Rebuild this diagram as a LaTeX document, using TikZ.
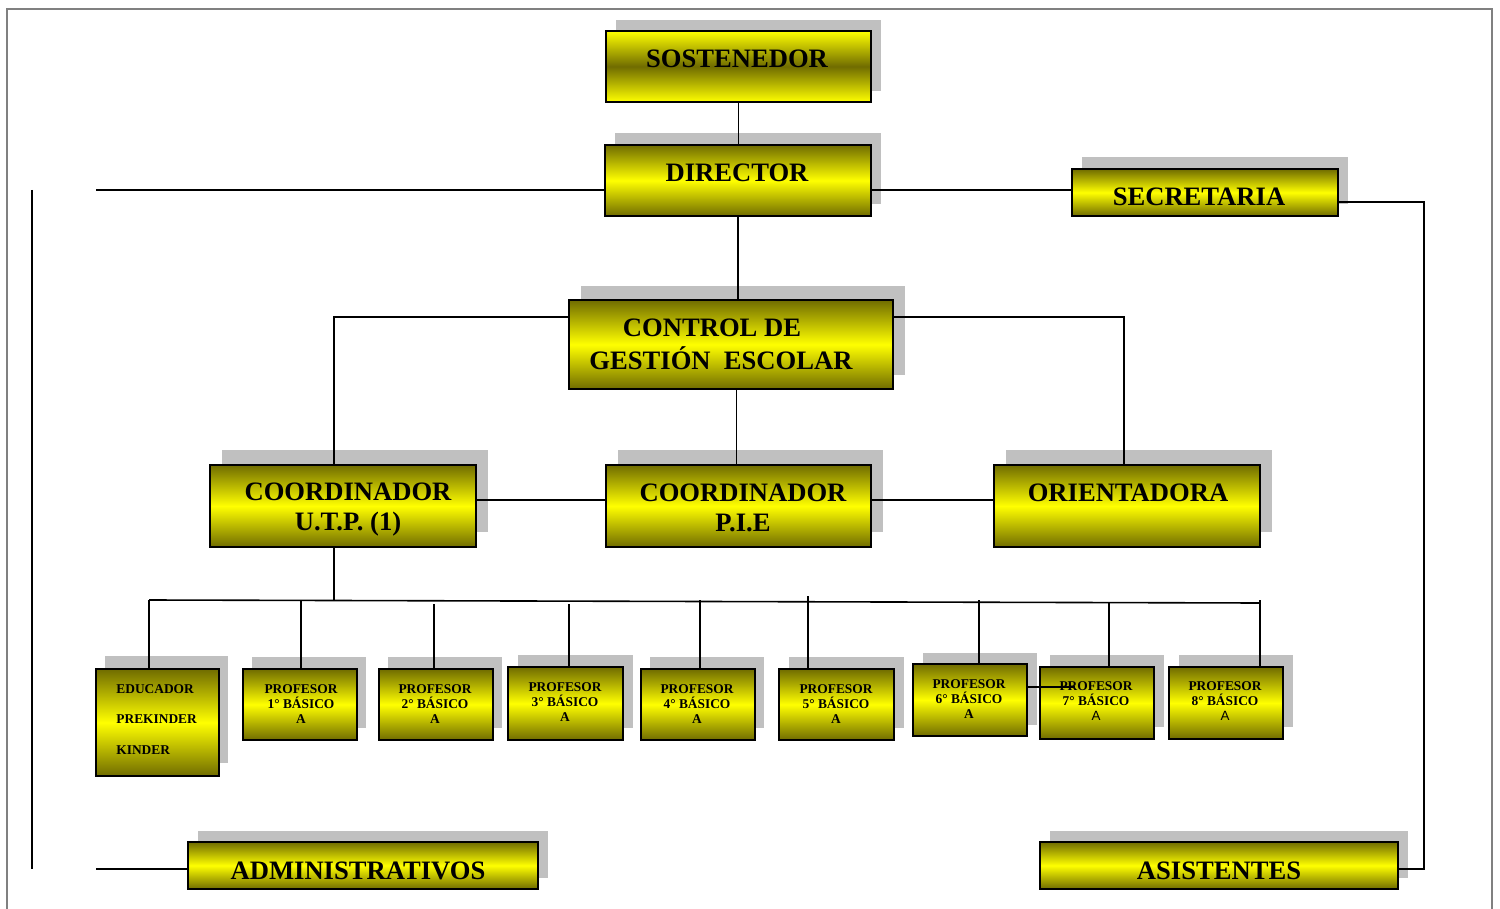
\documentclass[tikz,border=0pt]{standalone}
\usepackage{fontspec}
\setmainfont{Liberation Serif}
\newfontfamily\arialf{Liberation Sans}
\usetikzlibrary{shadows}
\definecolor{olv}{RGB}{112,108,0}
\definecolor{ylw}{RGB}{255,255,0}
\definecolor{shg}{RGB}{192,192,192}
\definecolor{frm}{RGB}{128,128,128}
\begin{document}
\begin{tikzpicture}[x=0.5pt,y=-0.5pt,
  ybox/.style={draw, line width=1pt, inner sep=0pt, top color=olv, bottom color=olv, middle color=ylw},
  ibox/.style={draw, line width=1pt, inner sep=0pt, top color=ylw, bottom color=ylw, middle color=olv},
  sz/.style 2 args={minimum width=#1*0.5pt, minimum height=#2*0.5pt},
  shad/.style 2 args={general shadow={shadow xshift=#1, shadow yshift=#2, fill=shg}},
  big/.style={font=\fontsize{13.3}{15}\selectfont\bfseries, align=center, inner sep=0pt},
  small/.style={font=\fontsize{6.7}{7.5}\selectfont\bfseries, align=center, inner sep=0pt},
  smallL/.style={font=\fontsize{6.7}{7.5}\selectfont\bfseries, anchor=west, inner sep=0pt},
  conn/.style={line width=0.8pt}]
\useasboundingbox (0,0) rectangle (1500,909);
% frame
\draw[frm, line width=1pt] (7,909) -- (7,9) -- (1492,9) -- (1492,909);

% boxes
\node[ibox, sz={265}{71}, shad={5pt}{5.5pt}] (sost) at (738.5,66.5) {};
\node[ybox, sz={266}{71}, shad={5pt}{6pt}] (dir) at (738,180.5) {};
\node[ybox, sz={266}{47}, shad={5pt}{6pt}] (sec) at (1205,192.5) {};
\node[ybox, sz={324}{89}, shad={6pt}{7pt}] (ctrl) at (731,344.5) {};
\node[ybox, sz={266}{82}, shad={6pt}{7.5pt}] (utp) at (343,506) {};
\node[ybox, sz={265}{82}, shad={6pt}{7.5pt}] (pie) at (738.5,506) {};
\node[ybox, sz={266}{82}, shad={6pt}{7.5pt}] (ori) at (1127,506) {};
\node[ybox, sz={123}{107}, shad={4.5pt}{6.5pt}] (edu) at (157.5,722.5) {};
\node[ybox, sz={114}{71}, shad={4.5pt}{6pt}] (p1) at (300,704.5) {};
\node[ybox, sz={114}{71}, shad={4.5pt}{6pt}] (p2) at (436,704.5) {};
\node[ybox, sz={115}{73}, shad={5pt}{6pt}] (p3) at (565.5,703.5) {};
\node[ybox, sz={114}{71}, shad={4.5pt}{6pt}] (p4) at (698,704.5) {};
\node[ybox, sz={115}{71}, shad={5pt}{6pt}] (p5) at (836.5,704.5) {};
\node[ybox, sz={114}{72}, shad={5pt}{5.5pt}] (p6) at (970,700) {};
\node[ybox, sz={114}{72}, shad={5pt}{6pt}] (p7) at (1097,703) {};
\node[ybox, sz={114}{72}, shad={5pt}{6pt}] (p8) at (1226,703) {};
\node[ybox, sz={350}{47}, shad={5pt}{5.5pt}] (adm) at (363,865.5) {};
\node[ybox, sz={358}{47}, shad={5pt}{5.5pt}] (asi) at (1219,865.5) {};

% texts
\node[big] (tsost) at (737,59) {SOSTENEDOR};
\node[big] (tdir) at (737,173) {DIRECTOR};
\node[big] (tsec) at (1199,197) {SECRETARIA};
\node[big] (tctrl1) at (712,328) {CONTROL DE};
\node[big] (tctrl2) at (721,358) {GESTIÓN\ \ ESCOLAR};
\node[big] (tutp) at (348,510) {COORDINADOR\\U.T.P. (1)};
\node[big] (tpie) at (743,508) {COORDINADOR\\P.I.E};
\node[big] (tori) at (1128,493) {ORIENTADORA};
\node[big] (tadm) at (358,871) {ADMINISTRATIVOS};
\node[big] (tasi) at (1219,871) {ASISTENTES};
\node[smallL] (tedu1) at (116,689) {EDUCADOR};
\node[smallL] (tedu2) at (116,719) {PREKINDER};
\node[smallL] (tedu3) at (116,750) {KINDER};
\node[small] (tp1) at (301,704) {PROFESOR\\1° BÁSICO\\A};
\node[small] (tp2) at (435,704) {PROFESOR\\2° BÁSICO\\A};
\node[small] (tp3) at (565,702) {PROFESOR\\3° BÁSICO\\A};
\node[small] (tp4) at (697,704) {PROFESOR\\4° BÁSICO\\A};
\node[small] (tp5) at (836,704) {PROFESOR\\5° BÁSICO\\A};
\node[small] (tp6) at (969,699) {PROFESOR\\6° BÁSICO\\A};
\node[small] (tp7) at (1096,701) {PROFESOR\\7° BÁSICO\\{\arialf\mdseries A}};
\node[small] (tp8) at (1225,701) {PROFESOR\\8° BÁSICO\\{\arialf\mdseries A}};

% helper coordinates
\coordinate (L1) at (96,190);
\coordinate (L2) at (96,869);
\coordinate (V1) at (32,190);
\coordinate (V2) at (32,869);
\coordinate (R1) at (1424,202);
\coordinate (C1) at (334,317);
\coordinate (C2) at (1124,317);
\coordinate (C3) at (736.5,389);
\coordinate (H1) at (0,500);
\coordinate (B1) at (149,600);
\coordinate (B2) at (1260,603);
\coordinate (W1) at (1075,687);

% connectors
\draw[conn] (sost.south) -- (sost.south |- dir.north);
\draw[conn] (L1) -- (L1 -| dir.west);
\draw[conn] (L1 -| dir.east) -- (L1 -| sec.west);
\draw[conn] (V1) -- (V2);
\draw[conn] (L2) -- (L2 -| adm.west);
\draw[conn] (R1 -| sec.east) -- (R1) -- (R1 |- L2) -- (L2 -| asi.east);
\draw[conn] (dir.south) -- (dir.south |- ctrl.north);
\draw[conn] (C1 -| ctrl.west) -- (C1) -- (C1 |- utp.north);
\draw[conn] (C2 -| ctrl.east) -- (C2) -- (C2 |- ori.north);
\draw[conn] (C3) -- (C3 |- pie.north);
\draw[conn] (H1 -| utp.east) -- (H1 -| pie.west);
\draw[conn] (H1 -| pie.east) -- (H1 -| ori.west);
\draw[conn] (C1 |- utp.south) -- (334,600);
\draw[conn] (B1) -- (B2);
\draw[conn] (B1) -- (B1 |- edu.north);
\draw[conn] (301,600) -- (301,600 |- p1.north);
\draw[conn] (434,604) -- (434,604 |- p2.north);
\draw[conn] (569,604) -- (569,604 |- p3.north);
\draw[conn] (700,600) -- (700,600 |- p4.north);
\draw[conn] (808,596) -- (808,596 |- p5.north);
\draw[conn] (979,600) -- (979,600 |- p6.north);
\draw[conn] (1109,603) -- (1109,603 |- p7.north);
\draw[conn] (1260,600) -- (1260,600 |- p8.north);
\draw[conn] (W1 -| p6.east) -- (W1);
\end{tikzpicture}
\end{document}
